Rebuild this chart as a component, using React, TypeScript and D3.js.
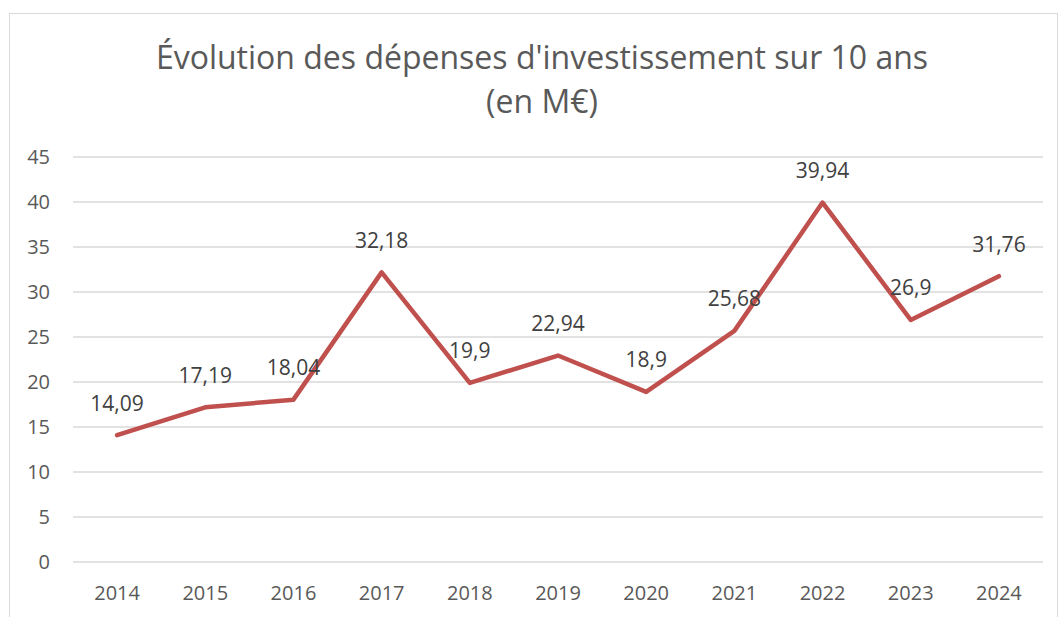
import * as d3 from "d3";
import { useEffect, useRef } from "react";

const years = ["2014", "2015", "2016", "2017", "2018", "2019", "2020", "2021", "2022", "2023", "2024"];
const spending = [14.09, 17.19, 18.04, 32.18, 19.9, 22.94, 18.9, 25.68, 39.94, 26.9, 31.76];
const yTicks = [0, 5, 10, 15, 20, 25, 30, 35, 40, 45];
const titleLines = ["Évolution des dépenses d'investissement sur 10 ans", "(en M€)"];

const W = 1059;
const H = 617;
const FONT = "'Open Sans', sans-serif";
const TEXT = "#595959";

const App = () => {
  const ref = useRef<SVGSVGElement>(null);

  useEffect(() => {
    const svg = d3.select(ref.current);
    svg.selectAll("*").remove();

    const left = 73, right = 1043, top = 157, bottom = 562;

    const x = d3.scaleBand().domain(years).range([left, right]);
    const y = d3.scaleLinear().domain([0, 45]).range([bottom, top]);

    // chart area border
    svg.append("rect")
      .attr("x", 9.5).attr("y", 13.5)
      .attr("width", 1048).attr("height", 620)
      .attr("fill", "#fff").attr("stroke", "#d9d9d9");

    // title
    svg.append("g").selectAll("text").data(titleLines).join("text")
      .attr("x", 542)
      .attr("y", (d, i) => 69 + i * 44)
      .attr("text-anchor", "middle")
      .attr("font-family", FONT)
      .attr("font-size", 32)
      .attr("fill", TEXT)
      .text(d => d);

    // gridlines
    svg.append("g").selectAll("line").data(yTicks).join("line")
      .attr("x1", left).attr("x2", right)
      .attr("y1", d => y(d)).attr("y2", d => y(d))
      .attr("stroke", "#d9d9d9").attr("stroke-width", 1.3);

    const yAxis = svg.append("g")
      .attr("transform", `translate(${left},0)`)
      .call(d3.axisLeft(y).tickValues(yTicks).tickSize(0).tickPadding(23).tickFormat(d3.format("d")));
    yAxis.select(".domain").remove();
    yAxis.selectAll("text")
      .attr("font-family", FONT).attr("font-size", 20).attr("fill", TEXT);

    const xAxis = svg.append("g")
      .attr("transform", `translate(0,${bottom})`)
      .call(d3.axisBottom(x).tickSize(0).tickPadding(24));
    xAxis.select(".domain").remove();
    xAxis.selectAll("text")
      .attr("font-family", FONT).attr("font-size", 20).attr("fill", TEXT);

    const cx = (d: string) => (x(d) as number) + x.bandwidth() / 2;

    const line = d3.line<number>()
      .x((d, i) => cx(years[i]))
      .y(d => y(d));

    svg.append("path")
      .datum(spending)
      .attr("d", line)
      .attr("fill", "none")
      .attr("stroke", "#c0504d")
      .attr("stroke-width", 4.5)
      .attr("stroke-linejoin", "round")
      .attr("stroke-linecap", "round");

    const fmt = (v: number) => String(v).replace(".", ",");

    svg.append("g").selectAll("text").data(spending).join("text")
      .attr("x", (d, i) => cx(years[i]))
      .attr("y", d => y(d) - 32)
      .attr("dy", "0.35em")
      .attr("text-anchor", "middle")
      .attr("font-family", FONT)
      .attr("font-size", 21)
      .attr("fill", "#404040")
      .text(d => fmt(d));
  }, []);

  return (
    <svg ref={ref} width={W} height={H} style={{ position: "absolute", left: 0, top: 0 }} />
  );
};

export default App;
